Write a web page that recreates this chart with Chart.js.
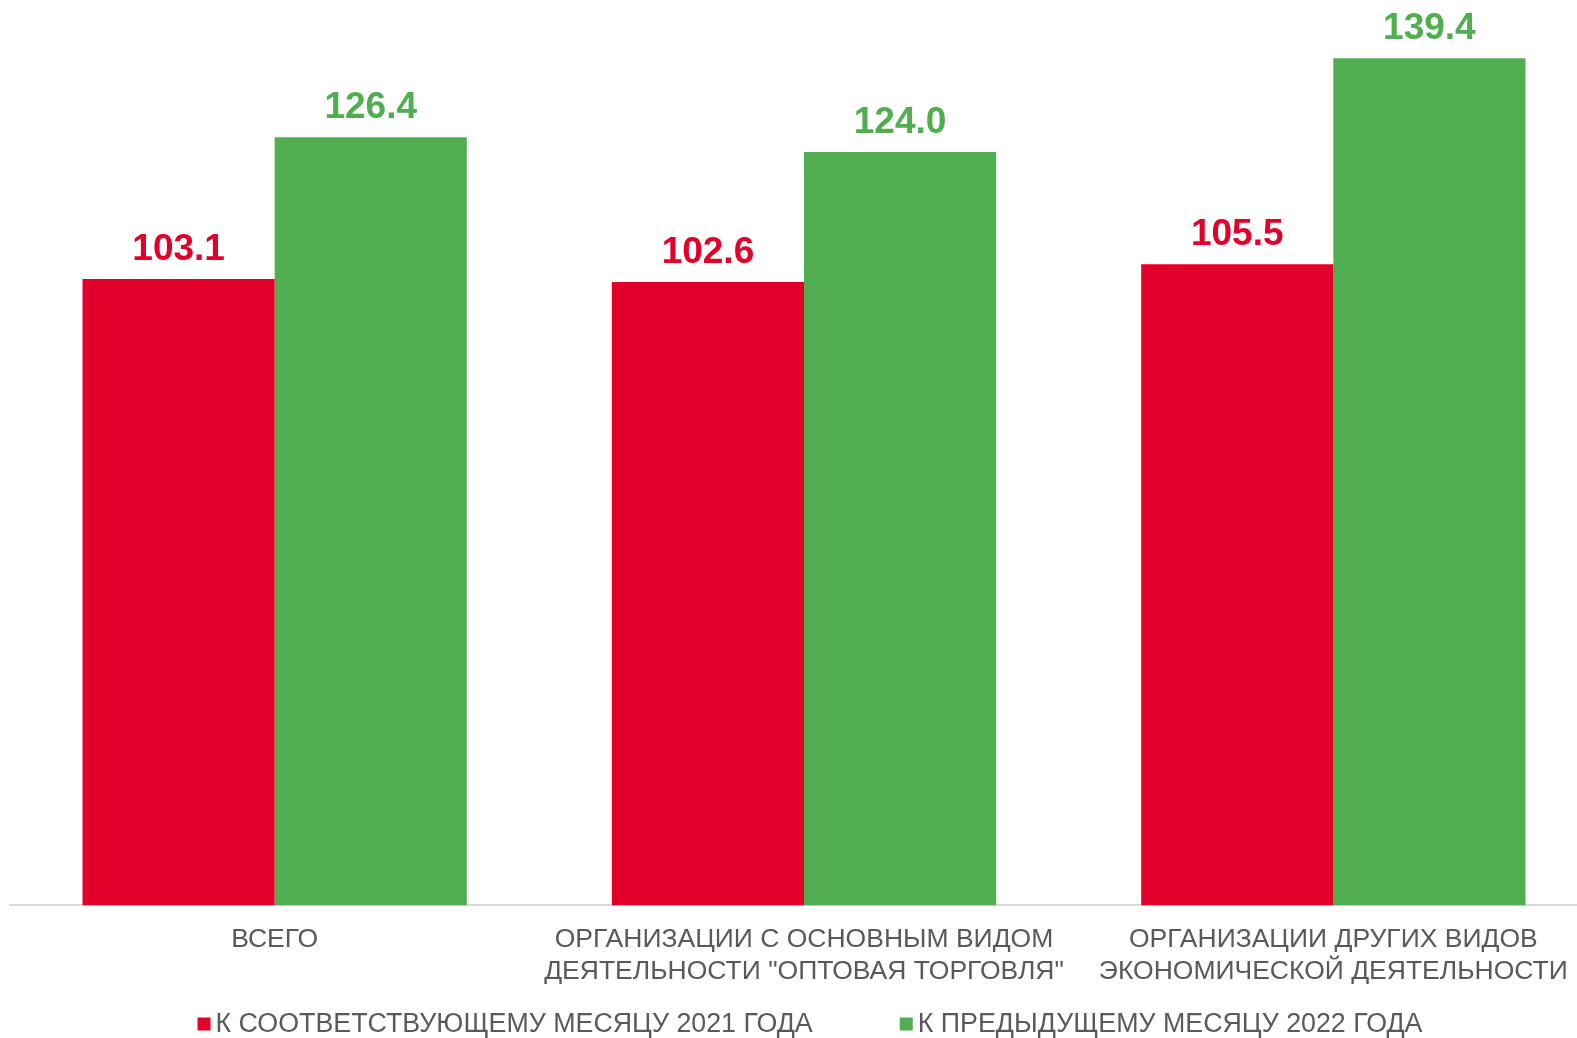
<!DOCTYPE html>
<html>
<head>
<meta charset="utf-8">
<script src="https://cdn.jsdelivr.net/npm/chart.js@4.4.1/dist/chart.umd.min.js"></script>
<style>
    html, body { margin: 0; padding: 0; background: #fff; overflow: hidden; }
    #wrap { width: 1600px; height: 1038px; }
</style>
</head>
<body>
<div id="wrap"><canvas id="chart"></canvas></div>
<script>
const categories = [
    ['ВСЕГО'],
    ['ОРГАНИЗАЦИИ С ОСНОВНЫМ ВИДОМ', 'ДЕЯТЕЛЬНОСТИ "ОПТОВАЯ ТОРГОВЛЯ"'],
    ['ОРГАНИЗАЦИИ ДРУГИХ ВИДОВ', 'ЭКОНОМИЧЕСКОЙ ДЕЯТЕЛЬНОСТИ']
];
const seriesNames = ['К СООТВЕТСТВУЮЩЕМУ МЕСЯЦУ 2021 ГОДА', 'К ПРЕДЫДУЩЕМУ МЕСЯЦУ 2022 ГОДА'];
const vsLastYear = [103.1, 102.6, 105.5];
const vsLastMonth = [126.4, 124.0, 139.4];

const RED = '#e2002b';
const GREEN = '#50ae50';
const FONT = '"Liberation Sans", Arial, sans-serif';

// value labels above the bars
const valueLabels = {
    id: 'valueLabels',
    afterDatasetsDraw(chart) {
        const ctx = chart.ctx;
        ctx.save();
        ctx.font = 'bold 37px ' + FONT;
        ctx.textAlign = 'center';
        ctx.textBaseline = 'alphabetic';
        chart.data.datasets.forEach((ds, i) => {
            const meta = chart.getDatasetMeta(i);
            ctx.fillStyle = ds.backgroundColor;
            meta.data.forEach((bar, j) => {
                ctx.fillText(ds.data[j].toFixed(1), bar.x, bar.y - 19);
            });
        });
        ctx.restore();
    }
};

// legend drawn under the axis labels, items spaced wider than the built-in one allows
const bottomLegend = {
    id: 'bottomLegend',
    afterDraw(chart) {
        const ctx = chart.ctx;
        const box = 13, gapText = 5, gapItem = 87;
        ctx.save();
        ctx.font = '26.8px ' + FONT;
        ctx.textBaseline = 'middle';
        const items = chart.data.datasets.map(ds => ({
            text: ds.label, color: ds.backgroundColor, w: ctx.measureText(ds.label).width
        }));
        const total = items.reduce((s, it) => s + box + gapText + it.w, 0) + gapItem * (items.length - 1);
        let x = (chart.width - total) / 2 + 10;
        const y = chart.height - 14;
        items.forEach(it => {
            ctx.fillStyle = it.color;
            ctx.fillRect(x, y - box / 2, box, box);
            x += box + gapText;
            ctx.fillStyle = '#595959';
            ctx.fillText(it.text, x, y + 1);
            x += it.w + gapItem;
        });
        ctx.restore();
    }
};

new Chart(document.getElementById('chart'), {
    type: 'bar',
    data: {
        labels: categories,
        datasets: [
            { label: seriesNames[0], data: vsLastYear, backgroundColor: RED },
            { label: seriesNames[1], data: vsLastMonth, backgroundColor: GREEN }
        ]
    },
    options: {
        responsive: true,
        maintainAspectRatio: false,
        animation: false,
        layout: { padding: { left: 10, right: 2, top: 0, bottom: 32 } },
        datasets: {
            bar: { categoryPercentage: 0.726, barPercentage: 1.0 }
        },
        scales: {
            x: {
                grid: { display: false, drawTicks: false },
                border: { display: true, color: '#d9d9d9', width: 2 },
                ticks: {
                    color: '#595959',
                    padding: 19,
                    maxRotation: 0,
                    font: { family: FONT, size: 26.5, lineHeight: 1.18 }
                }
            },
            y: {
                display: false,
                min: 0,
                max: 149
            }
        },
        plugins: {
            tooltip: { enabled: false },
            legend: { display: false }
        }
    },
    plugins: [valueLabels, bottomLegend]
});
</script>
</body>
</html>
